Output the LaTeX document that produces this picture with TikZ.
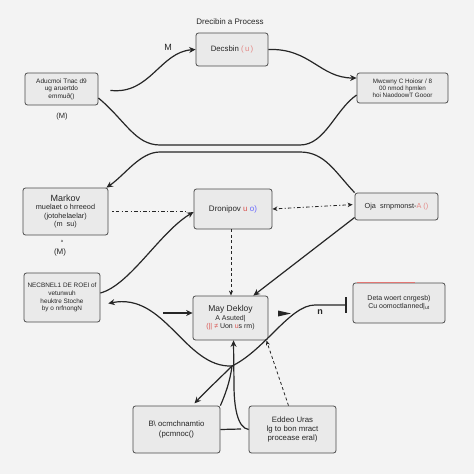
\documentclass[tikz,border=0pt]{standalone}
\usepackage{fontspec}
\setmainfont{Liberation Sans}
\usetikzlibrary{arrows.meta}
\definecolor{bg}{HTML}{F3F3F3}
\definecolor{boxfill}{HTML}{EAEAEA}
\definecolor{boxdraw}{HTML}{4A4A4A}
\definecolor{ink}{HTML}{262626}
\definecolor{accent}{HTML}{D9534F}
\tikzset{
 box/.style={draw=boxdraw, fill=boxfill, rounded corners=2.5pt, line width=0.8pt, align=center,
   font=\fontsize{7}{8}\selectfont, text=ink, inner sep=1pt},
 conn/.style={draw=ink, line width=1.2pt, -{Stealth[length=6.5pt,width=6pt]}},
 plain/.style={draw=ink, line width=1.2pt},
 dashdot/.style={draw=ink, line width=0.8pt, dash pattern=on 1.2pt off 2.2pt on 3.5pt off 2.2pt},
 dashln/.style={draw=ink, line width=0.8pt, dash pattern=on 3pt off 2.5pt, -{Stealth[length=5pt,width=4pt]}},
 lbl/.style={font=\fontsize{7.5}{8.5}\selectfont, text=ink},
}
\begin{document}
\begin{tikzpicture}[x=1pt,y=-1pt]
\fill[bg] (0,0) rectangle (474,474);
\useasboundingbox (0,0) rectangle (474,474);

% nodes
\node[box, minimum width=72pt, minimum height=33pt, font=\fontsize{7.8}{9}\selectfont] (dec) at (232,49.5) {Decsbin \textcolor{accent!70}{(\,u\,)}};
\node[lbl, font=\fontsize{8}{9}\selectfont] (title) at (230,22) {Drecibin a Process};
\node[lbl, font=\fontsize{9}{10}\selectfont] (mlab) at (168,47) {M};

\node[box, minimum width=73pt, minimum height=32pt, font=\fontsize{6.5}{7.4}\selectfont] (lt) at (61.5,89) {Aducmoi Tnac d9\\ ug aruertdo\\ emmuð()};
\node[lbl] (ltm) at (62,117) {(M)};

\node[box, minimum width=91pt, minimum height=30pt, font=\fontsize{6.3}{7.2}\selectfont] (rt) at (402.5,88) {Mwcwny C Hoiosr / 8\\ 00 nmod hpmlen\\ hoi NaodoowT Gooor};

\node[box, minimum width=85pt, minimum height=47pt, font=\fontsize{7.3}{8.4}\selectfont] (mk) at (65.5,211.5) {{\fontsize{9}{10}\selectfont Markov}\\ muelaet o hrreeod\\ (jotohelaelar)\\ (m \ su)};
\node[lbl, font=\fontsize{4}{5}\selectfont] (mkdot) at (62,241) {a};
\node[lbl, font=\fontsize{8}{9}\selectfont] (mkm) at (60,252) {(M)};

\node[box, minimum width=78pt, minimum height=40pt, font=\fontsize{8}{9}\selectfont] (ctr) at (233,209) {Dronipov \textcolor{accent}{u} \textcolor{blue!60}{o)}};

\node[box, minimum width=83pt, minimum height=27pt, font=\fontsize{7.3}{8.4}\selectfont] (r6) at (396.5,206.5) {Oja \ srnpmonst-\textcolor{accent!70}{A ()}};

\node[box, minimum width=76pt, minimum height=49pt, font=\fontsize{6.4}{7.8}\selectfont] (ll) at (62,297.5) {NECBNEL1 DE ROEI of\\ vetunwuh\\ heuktre Stoche\\ by o nrfnongN};

\node[box, minimum width=75pt, minimum height=44pt, font=\fontsize{7}{8.4}\selectfont] (may) at (230.5,318) {{\fontsize{8.5}{9.5}\selectfont May Dekloy}\\ A Asuted|\\ \textcolor{accent}{(|| ≠} Uon \textcolor{accent}{u}s rm)};

\node[box, minimum width=92pt, minimum height=40pt, font=\fontsize{7}{8}\selectfont] (r9) at (399,303) {Deta woert cnrgesb)\\ Cu oomoctlanned|\textsubscript{\tiny ut}};
\draw[accent!80, line width=1pt] ([xshift=4pt]r9.north west) -- ([xshift=-30pt]r9.north east);

\node[box, minimum width=87pt, minimum height=47pt, font=\fontsize{7.8}{9.2}\selectfont] (bl) at (176.5,429.5) {B\textbackslash{} ocmchnamtio\\ (pcmnoc()};
\node[box, minimum width=87pt, minimum height=47pt, font=\fontsize{7.8}{9.2}\selectfont] (br) at (292.5,429.5) {Eddeo Uras\\ lg to bon mract\\ procease eral)};

% coordinates
\coordinate (j) at (232,366);
\coordinate (a1) at (163,313);
\coordinate (bj) at (241,429);

% connectors
\draw[conn, shorten <=12pt] (lt.east) .. controls (150,95) and (160,52) .. (dec.west);
\draw[conn] (dec.east) .. controls (310,48) and (320,78) .. ([yshift=10pt]rt.west);

\draw[plain] ([yshift=-9pt]lt.east) .. controls (125,120) and (135,145) .. (160,145) -- (300,145)
   .. controls (325,145) and (335,110) .. ([yshift=-7pt]rt.west);

\draw[conn] (r6.north west) .. controls (335,172) and (325,152) .. (300,152) -- (160,152)
   .. controls (140,152) and (125,175) .. ([xshift=-2pt]mk.north east);

\draw[dashdot, shorten <=4pt, shorten >=6pt] (mk.east) -- (mk.east -| ctr.west);
\draw[dashdot, {Stealth[length=5pt,width=4.5pt]}-{Stealth[length=5pt,width=4.5pt]}, shorten >=2pt] (ctr.east) -- ([yshift=2pt]r6.west);

\draw[conn] ([yshift=4.5pt]ll.east) .. controls (130,285) and (160,232) .. ([yshift=-3pt]ctr.west);
\draw[conn] ([yshift=-11pt]r6.west) -- ([xshift=-15pt]may.north east);
\draw[dashln] ([xshift=-2pt]ctr.south) -- ([xshift=-2pt]ctr.south |- may.north);

\draw[conn, shorten >=8pt] (j) .. controls (185,368) and (165,292) .. ([yshift=-7.5pt]ll.east);
\draw[plain, -{Bar[width=16pt]}, shorten >=6pt] (j) .. controls (265,350) and (290,305) .. (315,305) -- (r9.west |- 0,305);
\node[lbl, font=\bfseries\fontsize{9}{9}\selectfont] (hook) at (320,312) {n};

\draw[conn] (a1) -- (a1 -| may.west);
\fill[ink] (278,310.5) -- (291,313.5) -- (278,316.5) -- cycle;

\draw[conn] (br.west) .. controls (237,428) and (234,405) .. (234,385) -- ([xshift=3pt]may.south);
\draw[plain] (bl.east) -- (bj);
\draw[conn, shorten >=3pt] (j) .. controls (220,378) and (205,392) .. ([xshift=16pt]bl.north);
\draw[plain] (bl.north east) .. controls (225,395) and (230,382) .. (j);
\draw[dashln] ([xshift=-4pt]br.north) -- ([xshift=-2pt]may.south east);
\end{tikzpicture}
\end{document}
